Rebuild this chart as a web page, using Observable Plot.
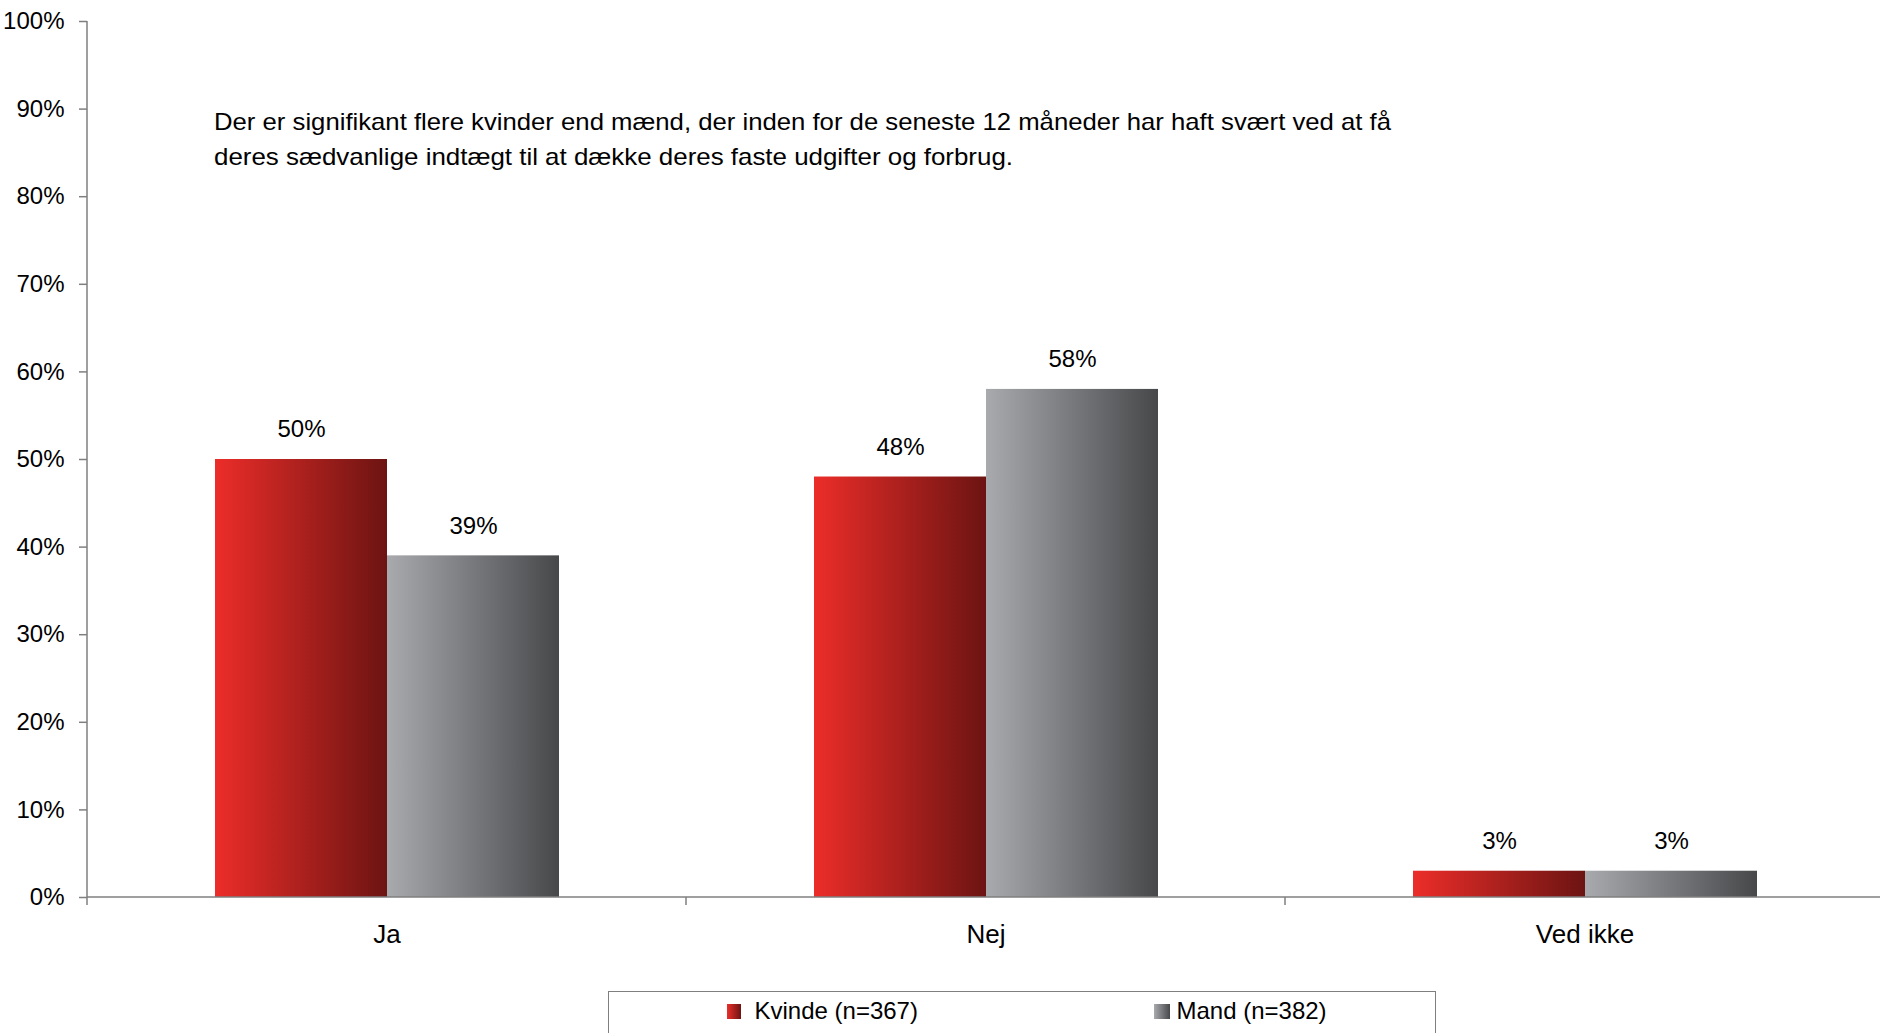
<!DOCTYPE html>
<html>
<head>
<meta charset="utf-8">
<script src="https://cdn.jsdelivr.net/npm/d3@7"></script>
<script src="https://cdn.jsdelivr.net/npm/@observablehq/plot@0.6"></script>
<style>
  html, body { margin: 0; padding: 0; background: #fff; }
  #wrap { position: relative; width: 1880px; height: 1033px; overflow: hidden; font-family: "Liberation Sans", Arial, sans-serif; }
  #legend { position: absolute; left: 608px; top: 991px; width: 828px; height: 80px; border: 1.5px solid #7f7f7f; box-sizing: border-box; }
  .sw { position: absolute; height: 15px; }
  .lt { position: absolute; font-size: 24px; line-height: 24px; color: #000; white-space: nowrap; }
</style>
</head>
<body>
<div id="wrap"></div>
<script>
const categories = ["Ja", "Nej", "Ved ikke"];
const series = ["Kvinde (n=367)", "Mand (n=382)"];
const kvinde = [50, 48, 3];
const mand = [39, 58, 3];
const yTicks = [0, 10, 20, 30, 40, 50, 60, 70, 80, 90, 100];
const note = [
  "Der er signifikant flere kvinder end mænd, der inden for de seneste 12 måneder har haft svært ved at få",
  "deres sædvanlige indtægt til at dække deres faste udgifter og forbrug."
];
const gradients = [["gradRed", "#ec2d29", "#6c1412"], ["gradGray", "#a9aaae", "#47484a"]];

const data = [];
categories.forEach((c, i) => {
  data.push({cat: c, series: series[0], value: kvinde[i]});
  data.push({cat: c, series: series[1], value: mand[i]});
});

const plot = Plot.plot({
  width: 1880,
  height: 985,
  marginTop: 21,
  marginBottom: 88,
  marginLeft: 87,
  marginRight: -4,
  style: {fontFamily: "'Liberation Sans', Arial, sans-serif", color: "#000", background: "#fff"},
  fx: {domain: categories, padding: 0, label: null},
  x: {domain: series, paddingInner: 0, paddingOuter: 0.734, axis: null},
  y: {domain: [0, 100], label: null},
  color: {domain: series, range: gradients.map(g => `url(#${g[0]})`)},
  marks: [
    Plot.barY(data, {fx: "cat", x: "series", y: "value", fill: "series"}),
    Plot.text(data, {fx: "cat", x: "series", y: "value", text: d => d.value + "%", dy: -30, fontSize: 24, fill: "#000"}),
    Plot.axisY({ticks: yTicks, tickFormat: d => d + "%", tickSize: 8, tickPadding: 15, fontSize: 24, stroke: "#7f7f7f", strokeWidth: 1.5, label: null, fill: "#000"}),
    Plot.axisFx({anchor: "bottom", tickSize: 0, tickPadding: 27, fontSize: 26, label: null, fill: "#000"})
  ]
});

const wrap = document.getElementById("wrap");
wrap.appendChild(plot);

// gradients
const svg = d3.select(plot);
const defs = svg.insert("defs", ":first-child");
gradients.forEach(([id, c0, c1]) => {
  const g = defs.append("linearGradient").attr("id", id).attr("x1", "0").attr("x2", "1").attr("y1", "0").attr("y2", "0");
  g.append("stop").attr("offset", "0").attr("stop-color", c0);
  g.append("stop").attr("offset", "1").attr("stop-color", c1);
});

// axis lines from the plot's own scales
const yS = plot.scale("y"), fxS = plot.scale("fx");
const y = d3.scaleLinear(yS.domain, yS.range);
const fx = d3.scaleBand(fxS.domain, fxS.range).paddingInner(fxS.paddingInner ?? 0).paddingOuter(fxS.paddingOuter ?? 0);
const x0 = fxS.range[0], x1 = fxS.range[1];
const ax = svg.append("g").attr("stroke", "#7f7f7f").attr("stroke-width", 1.5);
ax.append("line").attr("x1", x0).attr("x2", x1).attr("y1", y(0)).attr("y2", y(0));
ax.append("line").attr("x1", x0).attr("x2", x0).attr("y1", y(100)).attr("y2", y(0) + 8);
categories.slice(1).forEach(c => {
  ax.append("line").attr("x1", fx(c)).attr("x2", fx(c)).attr("y1", y(0)).attr("y2", y(0) + 8);
});

// annotation
const noteWidths = [1177, 799];
const t = svg.append("text").attr("font-size", 24).attr("fill", "#000").attr("text-anchor", "start");
note.forEach((line, i) => {
  t.append("tspan").attr("x", 214).attr("y", 130 + i * 35)
    .attr("textLength", noteWidths[i]).attr("lengthAdjust", "spacingAndGlyphs").text(line);
});

// legend
const leg = document.createElement("div");
leg.id = "legend";
wrap.appendChild(leg);
const legPos = [[727, 14, 755], [1154, 16, 1177]];
series.forEach((s, i) => {
  const sw = document.createElement("div");
  sw.className = "sw";
  sw.style.left = (legPos[i][0] - 609.5) + "px";
  sw.style.width = legPos[i][1] + "px";
  sw.style.top = (1004 - 992.5) + "px";
  sw.style.background = `linear-gradient(to right, ${gradients[i][1]}, ${gradients[i][2]})`;
  leg.appendChild(sw);
  const tx = document.createElement("div");
  tx.className = "lt";
  tx.style.left = (legPos[i][2] - 609.5) + "px";
  tx.style.top = "6.7px";
  tx.textContent = s;
  leg.appendChild(tx);
});
</script>
</body>
</html>
